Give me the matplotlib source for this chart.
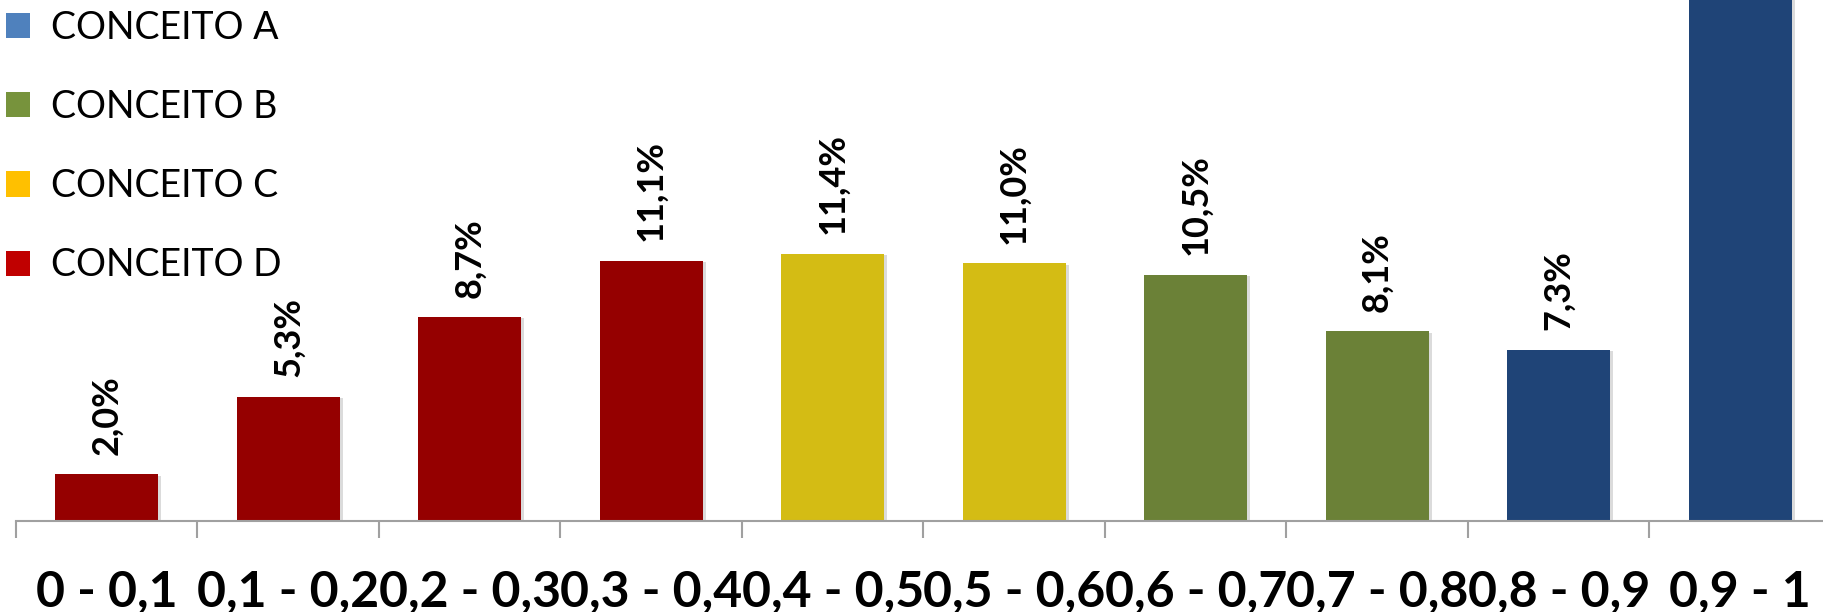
import matplotlib
matplotlib.use('Agg')
import matplotlib.pyplot as plt
import matplotlib.patheffects as pe
from matplotlib.patches import Patch

# Faixas de nota e percentual de alunos em cada faixa
faixas = ['0 - 0,1', '0,1 - 0,2', '0,2 - 0,3', '0,3 - 0,4', '0,4 - 0,5',
          '0,5 - 0,6', '0,6 - 0,7', '0,7 - 0,8', '0,8 - 0,9', '0,9 - 1']
percentuais = [2.0, 5.3, 8.7, 11.1, 11.4, 11.0, 10.5, 8.1, 7.3, 24.6]
conceitos = ['D', 'D', 'D', 'D', 'C', 'C', 'B', 'B', 'A', 'A']

# cores das barras e da legenda por conceito
cor_barra = {'A': '#1F4477', 'B': '#6B8137', 'C': '#D4BC14', 'D': '#950000'}
cor_legenda = {'A': '#4F81BD', 'B': '#77933C', 'C': '#FFC000', 'D': '#C00000'}
nomes_legenda = ['CONCEITO A', 'CONCEITO B', 'CONCEITO C', 'CONCEITO D']

plt.rcParams['font.family'] = ['Lato', 'DejaVu Sans']

fig = plt.figure(figsize=(18.24, 6.12), dpi=100)
ax = fig.add_axes([16 / 1824, 91 / 612, 1815 / 1824, 521 / 612])

x = list(range(len(faixas)))
bars = ax.bar(x, percentuais, width=0.57,
              color=[cor_barra[c] for c in conceitos], zorder=2)
for b in bars:
    b.set_path_effects([pe.SimplePatchShadow(offset=(2, -1), shadow_rgbFace='#999999', alpha=0.35),
                        pe.Normal()])

# rotulos de valor acima das barras
for xi, v in zip(x, percentuais):
    ax.annotate(f'{v:.1f}%'.replace('.', ','), (xi, v), xytext=(0, 14),
                textcoords='offset points', rotation=90, ha='center', va='bottom',
                fontsize=26, fontweight='bold', color='black')

ax.set_xlim(-0.5, 9.5)
ax.set_ylim(0, 22.23)
for s in ['top', 'right', 'left']:
    ax.spines[s].set_visible(False)
ax.spines['bottom'].set_color('#A0A0A0')
ax.spines['bottom'].set_linewidth(1.5)
ax.set_yticks([])

ax.set_xticks([i - 0.5 for i in range(len(faixas) + 1)])
ax.set_xticklabels([])
ax.set_xticks(x, minor=True)
ax.set_xticklabels(faixas, minor=True, fontsize=36, fontweight='bold')
ax.tick_params(axis='x', which='major', length=12, width=1.5, color='#A0A0A0')
ax.tick_params(axis='x', which='minor', length=0, pad=35)

handles = [Patch(facecolor=cor_legenda[n[-1]], edgecolor='none') for n in nomes_legenda]
fig.legend(handles, nomes_legenda, loc='upper left', bbox_to_anchor=(0.0, 0.993),
           frameon=False, fontsize=27, handlelength=0.65, handleheight=0.65,
           handletextpad=0.55, labelspacing=1.15, borderaxespad=0.0,
           borderpad=0.15)

fig.savefig('out.png', dpi=100)
